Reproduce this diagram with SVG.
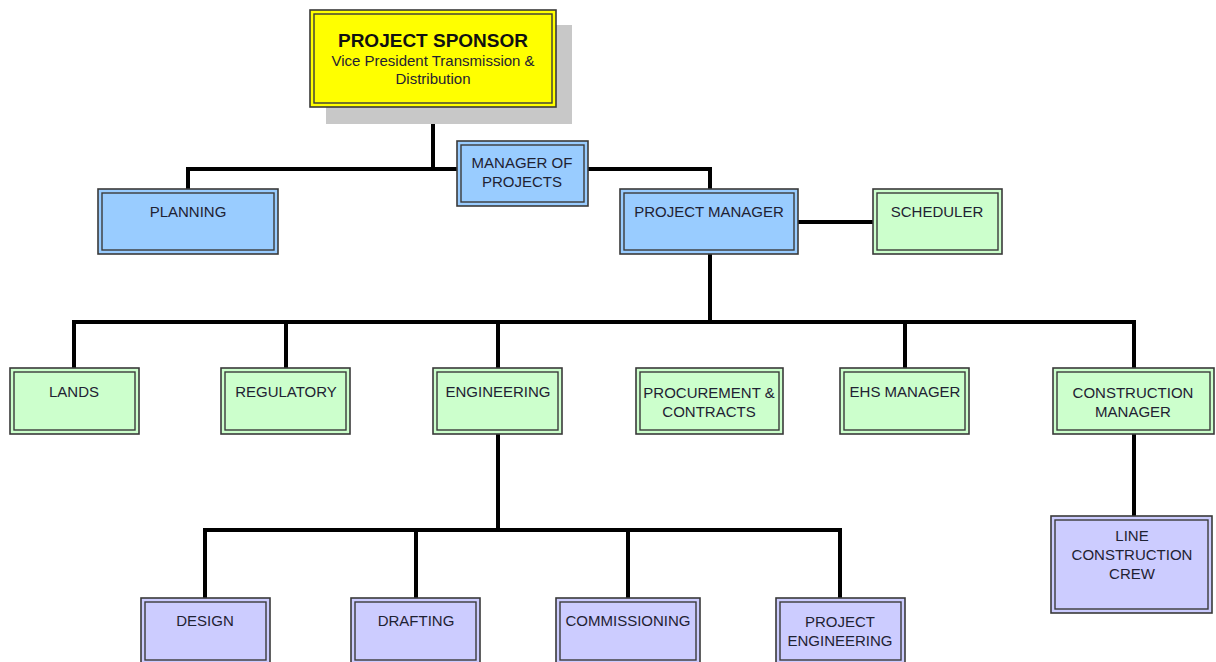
<svg xmlns="http://www.w3.org/2000/svg" width="1216" height="662" viewBox="0 0 1216 662">
<style>
.o{stroke:#3a3a3a;stroke-width:1.6}
.i{fill:none;stroke:#3a3a3a;stroke-width:1.4}
.y{fill:#ffff00}
.b{fill:#99ccff}
.g{fill:#ccffcc}
.p{fill:#ccccff}
text{font-family:"Liberation Sans",Arial,sans-serif;font-size:15px;text-anchor:middle;fill:#1f2233}
.t{font-weight:bold;font-size:19px;fill:#111}
.c line,.c path{stroke:#000;stroke-width:4;fill:none}
</style>
<rect width="1216" height="662" fill="#fff"/>
<g class="c" id="connectors">
<path d="M433 107V169M188 189V169H457M588 169H710V189"/>
<path d="M798 222H873"/>
<path d="M710 254V322M74 368V322H1134V368M286 322V368M498 322V368M905 322V368"/>
<path d="M498 434V530M205 598V530H840V598M416 530V598M628 530V598"/>
<path d="M1134 434V516"/>
</g>
<g id="sponsor">
<rect x="326" y="25" width="246" height="99" fill="#c8c8c8"/>
<rect class="o y" x="310" y="10" width="246" height="97"/>
<rect class="i" x="314" y="14" width="238" height="89"/>
<text class="t" x="433" y="47">PROJECT SPONSOR</text>
<text x="433" y="66">Vice President Transmission &amp;</text>
<text x="433" y="84">Distribution</text>
</g>
<g id="planning"><rect class="o b" x="98" y="189" width="180" height="65"/><rect class="i" x="102" y="193" width="172" height="57"/><text x="188" y="217">PLANNING</text></g>
<g id="manager-of-projects"><rect class="o b" x="457" y="141" width="131" height="65"/><rect class="i" x="461" y="145" width="123" height="57"/><text x="522" y="168">MANAGER OF</text><text x="522" y="187">PROJECTS</text></g>
<g id="project-manager"><rect class="o b" x="620" y="189" width="178" height="65"/><rect class="i" x="624" y="193" width="170" height="57"/><text x="709" y="217">PROJECT MANAGER</text></g>
<g id="scheduler"><rect class="o g" x="873" y="189" width="129" height="65"/><rect class="i" x="877" y="193" width="121" height="57"/><text x="937" y="217">SCHEDULER</text></g>
<g id="lands"><rect class="o g" x="10" y="368" width="129" height="66"/><rect class="i" x="14" y="372" width="121" height="58"/><text x="74" y="397">LANDS</text></g>
<g id="regulatory"><rect class="o g" x="221" y="368" width="129" height="66"/><rect class="i" x="225" y="372" width="121" height="58"/><text x="286" y="397">REGULATORY</text></g>
<g id="engineering"><rect class="o g" x="433" y="368" width="129" height="66"/><rect class="i" x="437" y="372" width="121" height="58"/><text x="498" y="397">ENGINEERING</text></g>
<g id="procurement"><rect class="o g" x="636" y="368" width="147" height="66"/><rect class="i" x="640" y="372" width="139" height="58"/><text x="709" y="398">PROCUREMENT &amp;</text><text x="709" y="417">CONTRACTS</text></g>
<g id="ehs"><rect class="o g" x="840" y="368" width="129" height="66"/><rect class="i" x="844" y="372" width="121" height="58"/><text x="905" y="397">EHS MANAGER</text></g>
<g id="construction-manager"><rect class="o g" x="1053" y="368" width="161" height="66"/><rect class="i" x="1057" y="372" width="153" height="58"/><text x="1133" y="398">CONSTRUCTION</text><text x="1133" y="417">MANAGER</text></g>
<g id="line-crew"><rect class="o p" x="1051" y="516" width="161" height="97"/><rect class="i" x="1055" y="520" width="153" height="89"/><text x="1132" y="541">LINE</text><text x="1132" y="560">CONSTRUCTION</text><text x="1132" y="579">CREW</text></g>
<g id="design"><rect class="o p" x="141" y="598" width="129" height="66"/><rect class="i" x="145" y="602" width="121" height="58"/><text x="205" y="626">DESIGN</text></g>
<g id="drafting"><rect class="o p" x="351" y="598" width="129" height="66"/><rect class="i" x="355" y="602" width="121" height="58"/><text x="416" y="626">DRAFTING</text></g>
<g id="commissioning"><rect class="o p" x="556" y="598" width="144" height="66"/><rect class="i" x="560" y="602" width="136" height="58"/><text x="628" y="626">COMMISSIONING</text></g>
<g id="project-engineering"><rect class="o p" x="776" y="598" width="129" height="66"/><rect class="i" x="780" y="602" width="121" height="58"/><text x="840" y="627">PROJECT</text><text x="840" y="646">ENGINEERING</text></g>
</svg>
